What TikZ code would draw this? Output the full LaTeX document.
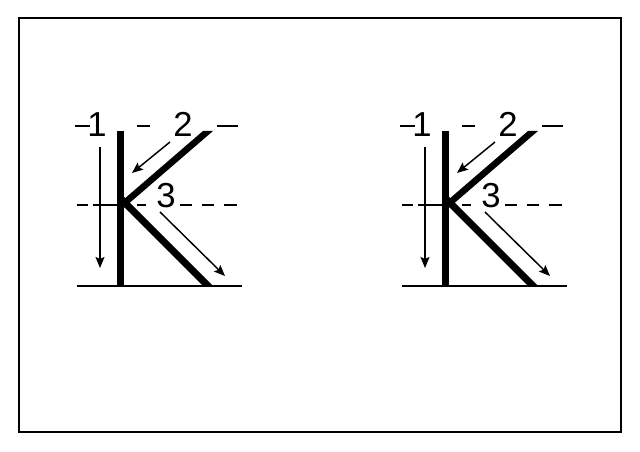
\documentclass[tikz,border=0pt]{standalone}
\usepackage{fontspec}
\setmainfont{Liberation Sans}
\usetikzlibrary{arrows.meta}
\tikzset{
  guide/.style={line width=1.3pt},
  baseln/.style={line width=2.2pt},
  strokearrow/.style={line width=1.1pt,-{Stealth[length=8.25pt,width=6.75pt,inset=1.5pt]}},
  num/.style={inner sep=0pt,font=\fontsize{26}{26}\selectfont},
  frame/.style={line width=1.8pt}
}
\begin{document}
\begin{tikzpicture}[x=0.75pt,y=-0.75pt]
\useasboundingbox (0,0) rectangle (640,452);
\draw[frame] (19,18) rectangle (621,432);
\foreach \s/\n in {0/a,325/b} {
  \begin{scope}[shift={(\s,0)}]
    % guide lines
    \draw[guide] (75,126) -- (90,126) (137,126) -- (150,126) (217,126) -- (238,126);
    \draw[guide] (77,205) -- (88,205) (93,205) -- (117,205) (137,205) -- (146,205)
                 (180,205) -- (192,205) (202,205) -- (214,205) (224,205) -- (237,205);
    \draw[baseln] (77,286) -- (242,286);
    % letter K
    \fill (117,131) rectangle (124,286);
    \fill (118,204.3) -- (203,131) -- (213,131) -- (118,212.9) -- cycle;
    \fill (118,191) -- (213,286) -- (203,286) -- (118,201) -- cycle;
    % labels
    \node[num] (one\n) at (97,125) {1};
    \node[num] (two\n) at (183,124.5) {2};
    \node[num] (three\n) at (166,196) {3};
    % stroke arrows
    \coordinate (aones\n) at (100,147);
    \coordinate (aonee\n) at (100,268);
    \coordinate (atwos\n) at (170,142);
    \coordinate (atwoe\n) at (132,173);
    \coordinate (athrs\n) at (160,212);
    \coordinate (athre\n) at (225,276);
    \draw[strokearrow] (aones\n) -- (aonee\n);
    \draw[strokearrow] (atwos\n) -- (atwoe\n);
    \draw[strokearrow] (athrs\n) -- (athre\n);
  \end{scope}
}
\end{tikzpicture}
\end{document}
